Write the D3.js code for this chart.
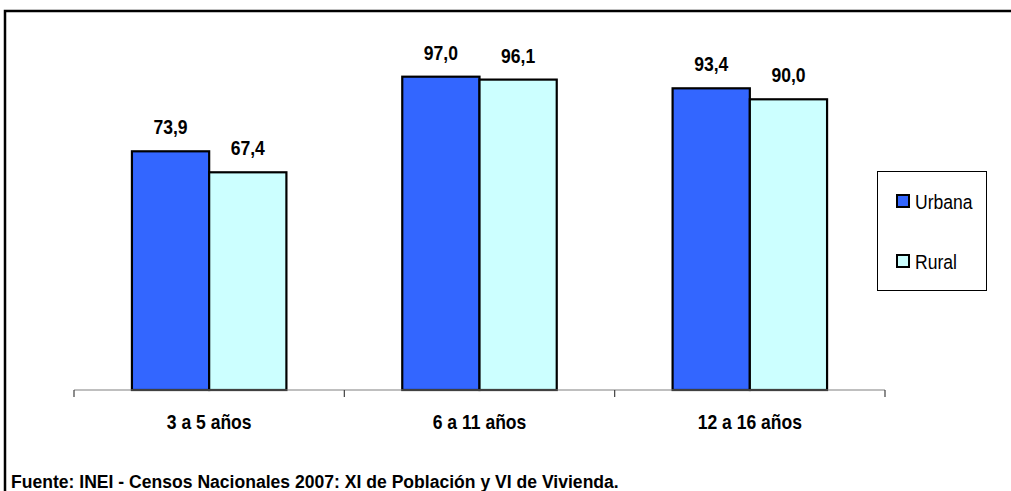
<!DOCTYPE html>
<html><head><meta charset="utf-8">
<script src="https://cdn.jsdelivr.net/npm/d3@7/dist/d3.min.js"></script>
<style>
html,body{margin:0;padding:0;background:#fff;}
svg{display:block;font-family:"Liberation Sans Narrow","Arial Narrow","Liberation Sans",Arial,sans-serif;}
</style></head>
<body>
<svg id="chart" width="1011" height="491"></svg>
<script>
const categories = ["3 a 5 años", "6 a 11 años", "12 a 16 años"];
const seriesNames = ["Urbana", "Rural"];
const urbana = [73.9, 97.0, 93.4];
const rural = [67.4, 96.1, 90.0];
const colors = ["#3366FF", "#CCFFFF"];
const sourceText = "Fuente: INEI - Censos Nacionales 2007: XI de Población y VI de Vivienda.";

const values = [urbana, rural];
const svg = d3.select("#chart");
const fmt = v => d3.format(".1f")(v).replace(".", ",");

function label(parent, x, y, txt, size, weight, anchor, sx) {
  return parent.append("text")
    .attr("transform", `translate(${x},${y}) scale(${sx || 0.9},1)`)
    .attr("text-anchor", anchor || "start")
    .attr("font-size", size).attr("font-weight", weight || "normal")
    .attr("fill", "#000").text(txt);
}

// frame
svg.append("rect").attr("x", 5).attr("y", 11).attr("width", 1200).attr("height", 600)
  .attr("fill", "none").attr("stroke", "#000").attr("stroke-width", 2.5);

const x0 = d3.scaleBand().domain(categories).range([74, 885]).paddingInner(0).paddingOuter(0);
const x1 = d3.scaleBand().domain(seriesNames).range([0, x0.bandwidth()]).paddingInner(0).paddingOuter(0.75);
const y = d3.scaleLinear().domain([0, 100]).range([390, 67]);

// bars
categories.forEach((c, i) => {
  const g = svg.append("g").attr("transform", `translate(${x0(c)},0)`);
  seriesNames.forEach((s, j) => {
    const v = values[j][i];
    g.append("rect")
      .attr("x", x1(s)).attr("y", y(v))
      .attr("width", x1.bandwidth()).attr("height", y(0) - y(v))
      .attr("fill", colors[j]).attr("stroke", "#000").attr("stroke-width", 2.2);
    label(g, x1(s) + x1.bandwidth() / 2, y(v) - 17, fmt(v), 19.5, "bold", "middle");
  });
});

// x axis
const axis = svg.append("g").attr("transform", "translate(0,390)");
axis.append("line").attr("x1", 74).attr("x2", 885).attr("y1", 0).attr("y2", 0)
  .attr("stroke", "#808080").attr("stroke-width", 1.2);
const tickPos = categories.map(c => x0(c)).concat([x0.range()[1]]);
tickPos.forEach(t => axis.append("line").attr("x1", t).attr("x2", t).attr("y1", 0).attr("y2", 7)
  .attr("stroke", "#404040").attr("stroke-width", 1.2));
categories.forEach(c => label(axis, x0(c) + x0.bandwidth() / 2, 39, c, 19.5, "bold", "middle"));

// legend
const lg = svg.append("g");
lg.append("rect").attr("x", 877.5).attr("y", 171.5).attr("width", 109).attr("height", 119)
  .attr("fill", "#fff").attr("stroke", "#000").attr("stroke-width", 1);
seriesNames.forEach((s, j) => {
  const yy = 195 + j * 60;
  lg.append("rect").attr("x", 897).attr("y", yy).attr("width", 12).attr("height", 12)
    .attr("fill", colors[j]).attr("stroke", "#000").attr("stroke-width", 2);
  label(lg, 915, yy + 14, s, 19.5, "normal", "start");
});

// source
label(svg, 11, 488, sourceText, 18.5, "bold", "start", 0.95);
</script>
</body></html>
